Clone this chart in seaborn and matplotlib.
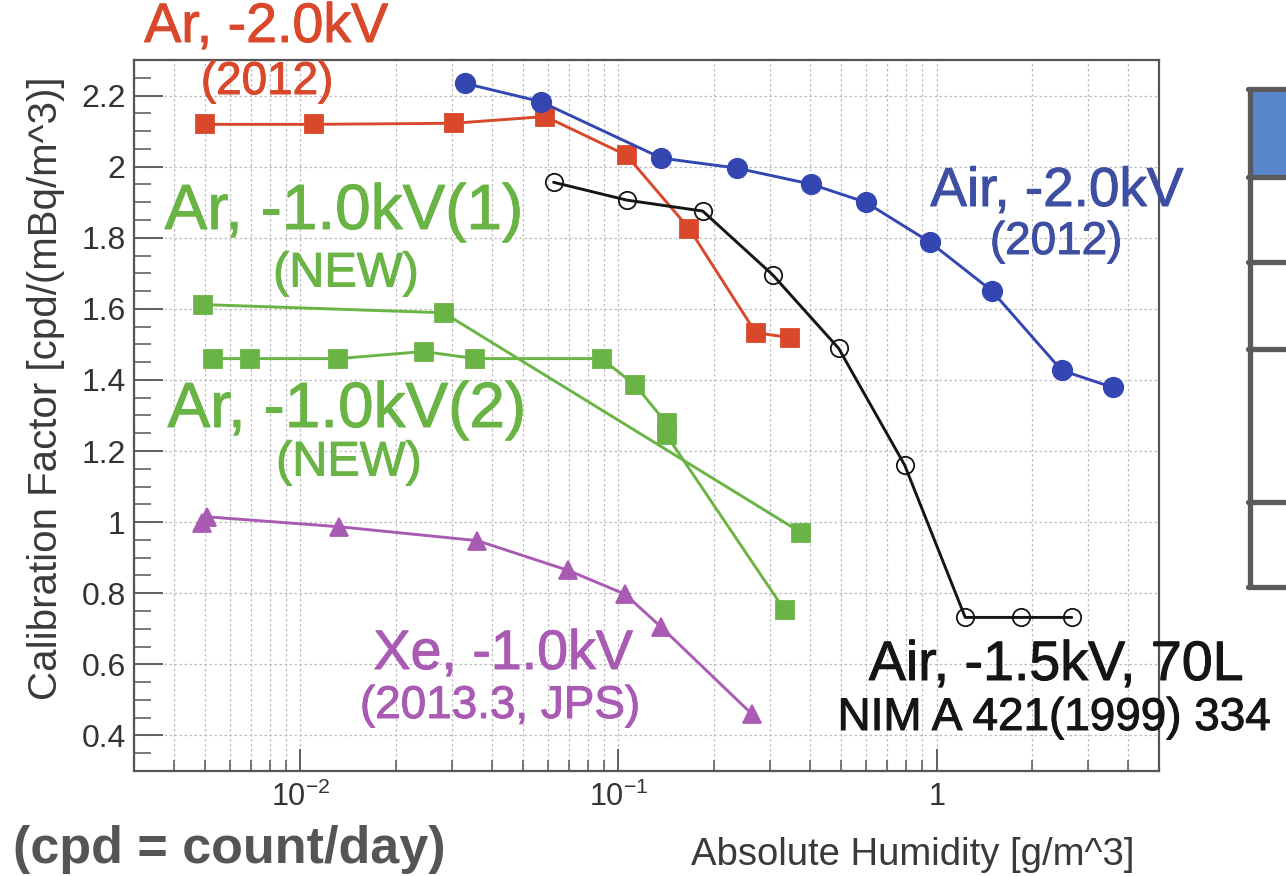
import numpy as np
import pandas as pd
import matplotlib
matplotlib.use("Agg")
import matplotlib.pyplot as plt
import matplotlib.ticker as mticker
import matplotlib.patheffects as pe
from matplotlib.patches import Rectangle
from matplotlib.lines import Line2D
import seaborn as sns

# ---------------- data ----------------
ar20_x = [0.0050, 0.0110, 0.0303, 0.0589, 0.106, 0.167, 0.270, 0.347]
ar20_y = [2.119, 2.119, 2.122, 2.141, 2.032, 1.825, 1.533, 1.519]

air20_x = [0.0330, 0.0569, 0.1365, 0.235, 0.402, 0.598, 0.951, 1.49, 2.47, 3.58]
air20_y = [2.234, 2.183, 2.024, 1.996, 1.951, 1.900, 1.788, 1.651, 1.427, 1.379]

air15_x = [0.0625, 0.106, 0.184, 0.305, 0.492, 0.793, 1.23, 1.84, 2.66]
air15_y = [1.956, 1.906, 1.875, 1.696, 1.489, 1.161, 0.732, 0.732, 0.732]

ar10a_x = [0.00495, 0.0282, 0.376]
ar10a_y = [1.612, 1.589, 0.970]

ar10b_x = [0.00532, 0.00697, 0.01316, 0.0244, 0.0355, 0.0885, 0.113, 0.1416, 0.1416, 0.333]
ar10b_y = [1.460, 1.460, 1.460, 1.480, 1.460, 1.460, 1.385, 1.278, 1.245, 0.752]

xe10_x = [0.00489, 0.00510, 0.01327, 0.0360, 0.0696, 0.105, 0.1365, 0.262]
xe10_y = [0.998, 1.015, 0.987, 0.948, 0.864, 0.797, 0.704, 0.461]

y_ticks = [0.4, 0.6, 0.8, 1.0, 1.2, 1.4, 1.6, 1.8, 2.0, 2.2]
y_tick_labels = ["0.4", "0.6", "0.8", "1", "1.2", "1.4", "1.6", "1.8", "2", "2.2"]
x_ticks = [0.01, 0.1, 1]
x_tick_labels = [r"$10^{-2}$", r"$10^{-1}$", "1"]

# ---------------- style ----------------
sns.set_theme(style="white")
plt.rcParams["font.family"] = ["Liberation Sans", "DejaVu Sans"]
plt.rcParams["mathtext.fontset"] = "custom"
plt.rcParams["mathtext.rm"] = "Liberation Sans"
plt.rcParams["mathtext.it"] = "Liberation Sans"

W, H = 1286, 876
fig = plt.figure(figsize=(W / 100, H / 100), dpi=100)
fig.patch.set_facecolor("white")

def fx(px):
    return px / W

def fy(py):
    return 1 - py / H

ax = fig.add_axes([fx(134), fy(771), fx(1159) - fx(134), fy(60) - fy(771)])

RED = "#d9482b"
BLUE = "#3346b2"
BLACK = "#151515"
GREEN = "#6ab446"
PURPLE = "#a95ab3"

series = [
    (ar20_x, ar20_y, RED, "s", RED, 13.5),
    (air20_x, air20_y, BLUE, "o", BLUE, 14),
    (air15_x, air15_y, BLACK, "o", "none", 12.5),
    (ar10a_x, ar10a_y, GREEN, "s", GREEN, 13.5),
    (ar10b_x, ar10b_y, GREEN, "s", GREEN, 13.5),
    (xe10_x, xe10_y, PURPLE, "^", PURPLE, 13),
]
for xs, ys, col, mk, fc, ms in series:
    df = pd.DataFrame({"x": xs, "y": ys})
    sns.lineplot(data=df, x="x", y="y", ax=ax, color=col, marker=mk,
                 markersize=ms, markerfacecolor=fc, markeredgecolor=col,
                 markeredgewidth=1.3, linewidth=2.1, estimator=None,
                 sort=False, legend=False, zorder=3)

ax.set_xscale("log")
ax.set_xlim(0.003, 5.0)
ax.set_ylim(0.3, 2.3)
ax.set_xlabel("")
ax.set_ylabel("")

ax.set_xticks(x_ticks, labels=x_tick_labels)
ax.xaxis.set_minor_locator(mticker.LogLocator(base=10, subs=np.arange(2, 10)))
ax.xaxis.set_minor_formatter(mticker.NullFormatter())
ax.set_yticks(y_ticks, labels=y_tick_labels)
ax.yaxis.set_minor_locator(mticker.MultipleLocator(0.05))

ax.tick_params(axis="x", which="major", direction="in", length=16, width=1.3,
               color="#555555", labelsize=22, labelcolor="#333333", pad=8,
               bottom=True, top=False)
ax.tick_params(axis="x", which="minor", direction="in", length=8, width=1.1,
               color="#555555", bottom=True, top=False)
ax.tick_params(axis="y", which="major", direction="in", length=21, width=1.3,
               color="#555555", labelsize=23, labelcolor="#333333", pad=6,
               left=True, right=False)
ax.tick_params(axis="y", which="minor", direction="in", length=12, width=1.1,
               color="#555555", left=True, right=False)

ax.grid(True, axis="x", which="both", color="#bcbcbc", linestyle=(0, (2, 2)), linewidth=0.9)
ax.grid(True, axis="y", which="major", color="#bcbcbc", linestyle=(0, (2, 2)), linewidth=0.9)
ax.set_axisbelow(True)
for s in ax.spines.values():
    s.set_color("#555555")
    s.set_linewidth(1.6)

def heavy(col, w=0.7):
    return [pe.withStroke(linewidth=w, foreground=col)]

# ---------------- axis titles ----------------
fig.text(fx(46), fy(388), "Calibration Factor [cpd/(mBq/m^3)]", rotation=90,
         ha="center", va="center", fontsize=29, color="#3a3a3a")
fig.text(fx(913), fy(855), "Absolute Humidity [g/m^3]", ha="center", va="center",
         fontsize=27.5, color="#3a3a3a")
fig.text(fx(229), fy(850), "(cpd = count/day)", ha="center", va="center",
         fontsize=37.5, color="#555555", fontweight="bold")

# ---------------- series annotations ----------------
def ann(px, py, s, size, col):
    fig.text(fx(px), fy(py), s, ha="center", va="center", fontsize=size,
             color=col, path_effects=heavy(col))

ann(266, 28, "Ar, -2.0kV", 40, RED)
ann(267, 82, "(2012)", 33, RED)
ann(344, 212, "Ar, -1.0kV(1)", 46, GREEN)
ann(346, 274, "(NEW)", 35, GREEN)
ann(347, 410, "Ar, -1.0kV(2)", 46, GREEN)
ann(349, 463, "(NEW)", 35, GREEN)
ann(1057, 192, "Air, -2.0kV", 39.5, "#3d4ea3")
ann(1056, 242, "(2012)", 33, "#3d4ea3")
ann(503, 655, "Xe, -1.0kV", 40, PURPLE)
ann(500, 706, "(2013.3, JPS)", 33, PURPLE)
ann(1056, 666, "Air, -1.5kV, 70L", 40, BLACK)
ann(1054, 718, "NIM A 421(1999) 334", 33, BLACK)

# ---------------- table fragment on the right ----------------
tb_left, tb_top, tb_bot = 1250, 89, 587
fig.add_artist(Rectangle((fx(tb_left), fy(176)), fx(W + 10) - fx(tb_left), fy(92) - fy(176),
                         transform=fig.transFigure, facecolor="#5a87cb", edgecolor="none"))
lw = 3.8
fig.add_artist(Line2D([fx(tb_left), fx(tb_left)], [fy(tb_top), fy(tb_bot)],
                      transform=fig.transFigure, color="#5a5a5a", linewidth=lw))
for yy in [tb_top, 177, 262, 349, 502, tb_bot]:
    fig.add_artist(Line2D([fx(tb_left - 2), fx(W + 5)], [fy(yy), fy(yy)],
                          transform=fig.transFigure, color="#5a5a5a", linewidth=lw))

fig.savefig("out.png", dpi=100, facecolor="white")
